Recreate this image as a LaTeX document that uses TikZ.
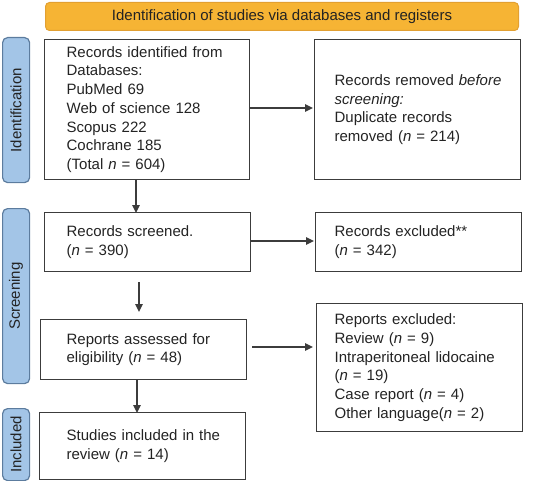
\documentclass[tikz,border=0pt]{standalone}
\usepackage{fontspec}
\setmainfont{Liberation Sans}
\usetikzlibrary{arrows.meta,calc}
\definecolor{bannerfill}{RGB}{246,180,52}
\definecolor{bannerdraw}{RGB}{226,160,50}
\definecolor{sidefill}{RGB}{163,197,231}
\definecolor{sidedraw}{RGB}{92,124,158}
\definecolor{boxline}{RGB}{60,60,60}
\definecolor{txt}{RGB}{35,35,35}
\begin{document}
\begin{tikzpicture}[x=1pt,y=-1pt,
  every node/.style={text=txt, font=\fontsize{15}{18.7}\selectfont},
  box/.style={draw=boxline, line width=1.3pt, rectangle, anchor=north west, inner ysep=0pt, align=left},
  banner/.style={draw=bannerdraw, fill=bannerfill, line width=1pt, rounded corners=4pt, anchor=north west, inner sep=0pt},
  side/.style={draw=sidedraw, fill=sidefill, line width=1.2pt, rounded corners=5pt, anchor=north west, inner sep=0pt},
  sidetext/.style={rotate=90},
  arr/.style={draw=boxline, line width=1.3pt, -{Triangle[length=8pt,width=7.5pt]}}
]
\useasboundingbox (0,0) rectangle (540,481);
% banner
\node[banner, minimum width=473pt, minimum height=28pt] (ban) at (45,2) {};
\node (bantext) at (ban.center) {Identification of studies via databases and registers};
% side labels
\node[side, minimum width=27pt, minimum height=145pt] (s1) at (2,37) {};
\node[sidetext] (s1t) at (s1.center) {Identification};
\node[side, minimum width=27pt, minimum height=175pt] (s2) at (2,208) {};
\node[sidetext] (s2t) at (s2.center) {Screening};
\node[side, minimum width=27pt, minimum height=72pt] (s3) at (2,408) {};
\node[sidetext] (s3t) at (s3.center) {Included};
% boxes
\node[box, inner xsep=22pt, text width=161pt, minimum height=140pt] (b1) at (44,39)
  {\begin{tabular}{@{}l@{}}Records identified from\\Databases:\\PubMed 69\\Web of science 128\\Scopus 222\\Cochrane 185\\(Total \textit{n} = 604)\end{tabular}};
\node[box, inner xsep=20pt, text width=166pt, minimum height=140pt] (b2) at (314,39)
  {\begin{tabular}{@{}l@{}}Records removed \textit{before}\\\textit{screening:}\\Duplicate records\\removed (\textit{n} = 214)\end{tabular}};
\node[box, inner xsep=22pt, text width=162pt, minimum height=59pt] (b3) at (44,212)
  {\begin{tabular}{@{}l@{}}Records screened.\\(\textit{n} = 390)\end{tabular}};
\node[box, inner xsep=19pt, text width=168pt, minimum height=59pt] (b4) at (315,212)
  {\begin{tabular}{@{}l@{}}Records excluded**\\(\textit{n} = 342)\end{tabular}};
\node[box, inner xsep=26pt, text width=154pt, minimum height=60pt] (b5) at (40,319)
  {\begin{tabular}{@{}l@{}}Reports assessed for\\eligibility (\textit{n} = 48)\end{tabular}};
\node[box, inner xsep=18pt, text width=170pt, minimum height=128pt] (b6) at (316,303)
  {\begin{tabular}{@{}l@{}}Reports excluded:\\Review (\textit{n} = 9)\\Intraperitoneal lidocaine\\(\textit{n} = 19)\\Case report (\textit{n} = 4)\\Other language(\textit{n} = 2)\end{tabular}};
\node[box, inner xsep=27pt, text width=152pt, minimum height=67pt] (b7) at (39,412)
  {\begin{tabular}{@{}l@{}}Studies included in the\\review (\textit{n} = 14)\end{tabular}};
% connector coordinates
\coordinate (c1) at (136,179);
\coordinate (c3) at (136,212);
\coordinate (c3b) at (139,271);
\coordinate (c5t) at (139,319);
\coordinate (c5b) at (137,379);
\coordinate (c7t) at (137,412);
% arrows
\draw[arr] (b1.east |- 0,108) -- ([xshift=-1pt]b2.west |- 0,108);
\draw[arr] (c1) -- ([yshift=-1pt]c3);
\draw[arr] (b3.east |- 0,241) -- ([xshift=-1pt]b4.west |- 0,241);
\draw[arr, shorten <=11pt, shorten >=7pt] (c3b) -- (c5t);
\draw[arr, shorten <=5pt, shorten >=3pt] (b5.east |- 0,347) -- (b6.west |- 0,347);
\draw[arr] (c5b) -- ([yshift=-1pt]c7t);
\end{tikzpicture}
\end{document}
